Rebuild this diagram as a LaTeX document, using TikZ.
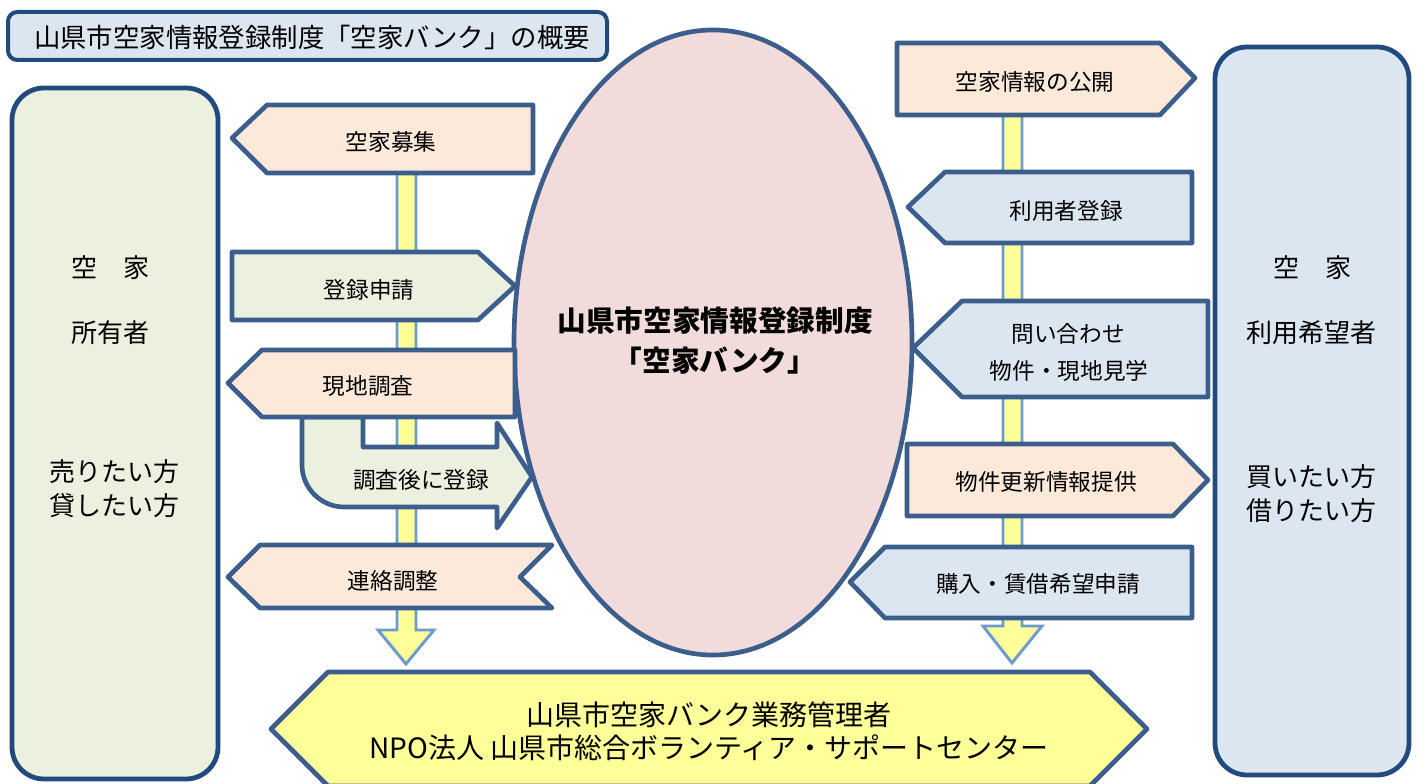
\documentclass[tikz,border=0pt]{standalone}
\usepackage{fontspec}
\setmainfont{Noto Sans CJK JP}
\definecolor{bd}{RGB}{59,94,140}
\definecolor{bdside}{RGB}{33,74,125}
\definecolor{peach}{RGB}{253,233,217}
\definecolor{lgreen}{RGB}{235,241,222}
\definecolor{lblue}{RGB}{220,230,241}
\definecolor{pinkfill}{RGB}{242,220,219}
\definecolor{yel}{RGB}{255,255,153}
\definecolor{barbd}{RGB}{108,155,210}
\begin{document}
\begin{tikzpicture}[x=0.75pt,y=-0.75pt,
  shp/.style={draw=bd, line width=3.5pt, line join=round},
  sidebox/.style={draw=bdside, line width=3.6pt, rounded corners=24pt},
  bar/.style={draw=barbd, fill=yel, line width=2.2pt, line join=miter},
  lbl/.style={font=\fontsize{17}{20}\selectfont, inner sep=0pt, align=center},
  sidelbl/.style={font=\fontsize{19.5}{23}\selectfont, inner sep=0pt},
]
\useasboundingbox (0,0) rectangle (1418,784);

% side boxes
\draw[sidebox, fill=lgreen] (12,88) rectangle (218,779);
\draw[sidebox, fill=lblue] (1215,47) rectangle (1409,775);

% title
\draw[draw=bdside, line width=3pt, rounded corners=7pt, fill=lblue] (8,12) rectangle (607,60);
\node[font=\fontsize{19.8}{22}\selectfont, inner sep=0pt] (title) at (312,37) {山県市空家情報登録制度「空家バンク」の概要};

% side texts
\node[sidelbl] (l1) at (110,268) {空　家};
\node[sidelbl] (l2) at (110,333) {所有者};
\node[sidelbl] (l3) at (115,472) {売りたい方};
\node[sidelbl] (l4) at (115,506) {貸したい方};
\node[sidelbl] (r1) at (1312,268) {空　家};
\node[sidelbl] (r2) at (1311,333) {利用希望者};
\node[sidelbl] (r3) at (1311,477) {買いたい方};
\node[sidelbl] (r4) at (1311,511) {借りたい方};

% vertical flow bars
\draw[bar] (397,160) -- (397,630) -- (378,630) -- (406,664) -- (434,630) -- (416,630) -- (416,160) -- cycle;
\draw[bar] (1003,100) -- (1003,626) -- (983,626) -- (1012,663) -- (1042,626) -- (1022,626) -- (1022,100) -- cycle;

% ellipse
\draw[shp, fill=pinkfill] (713,342.5) ellipse [x radius=149.25pt, y radius=234.4pt];
\node[font=\fontsize{21.5}{30}\selectfont\bfseries, inner sep=0pt, align=center] (bank) at (715,341) {山県市空家情報登録制度\\「空家バンク」};

% left arrows
\draw[shp, fill=peach] (232,138) -- (267,105) -- (533,105) -- (533,173) -- (267,173) -- cycle;
\node[lbl] (a1) at (391,142) {空家募集};
\draw[shp, fill=lgreen] (232,252) -- (478,252) -- (515,286) -- (478,320) -- (232,320) -- cycle;
\node[lbl] (a2) at (369,290) {登録申請};
\draw[shp, fill=lgreen] (302,417) -- (302,465) .. controls (302,488) and (321,507) .. (344,507) -- (497,507) -- (497,528) -- (532,477) -- (497,423) -- (497,447) -- (363,447) -- (363,417) -- cycle;
\node[lbl] (a4) at (421,480) {調査後に登録};
\draw[shp, fill=peach] (228,383) -- (262,350) -- (515,350) -- (515,417) -- (262,417) -- cycle;
\node[lbl] (a3) at (368,386) {現地調査};
\draw[shp, fill=peach] (228,577) -- (260,545) -- (552,545) -- (520,577) -- (552,608) -- (260,608) -- cycle;
\node[lbl] (a5) at (393,581) {連絡調整};

% right arrows
\draw[shp, fill=peach] (897,43) -- (1160,43) -- (1195,78) -- (1160,115) -- (897,115) -- cycle;
\node[lbl] (b1) at (1035,82) {空家情報の公開};
\draw[shp, fill=lblue] (908,207) -- (945,172) -- (1192,172) -- (1192,243) -- (945,243) -- cycle;
\node[lbl] (b2) at (1066,211) {利用者登録};
\draw[shp, fill=lblue] (913,348) -- (962,301) -- (1208,301) -- (1208,397) -- (962,397) -- cycle;
\node[lbl] (b3a) at (1068,334) {問い合わせ};
\node[lbl] (b3b) at (1069,371) {物件・現地見学};
\draw[shp, fill=peach] (907,444) -- (1173,444) -- (1208,480) -- (1173,516) -- (907,516) -- cycle;
\node[lbl] (b4) at (1046,482) {物件更新情報提供};
\draw[shp, fill=lblue] (850,582) -- (885,547) -- (1192,547) -- (1192,618) -- (885,618) -- cycle;
\node[lbl] (b5) at (1038,584) {購入・賃借希望申請};

% bottom hexagon
\draw[shp, fill=yel] (271,729) -- (328,672) -- (1090,672) -- (1147,729) -- (1090,786) -- (328,786) -- cycle;
\node[font=\fontsize{21}{25}\selectfont, inner sep=0pt, align=center] (mgr) at (709,731) {山県市空家バンク業務管理者\\NPO法人 山県市総合ボランティア・サポートセンター};
\end{tikzpicture}
\end{document}
